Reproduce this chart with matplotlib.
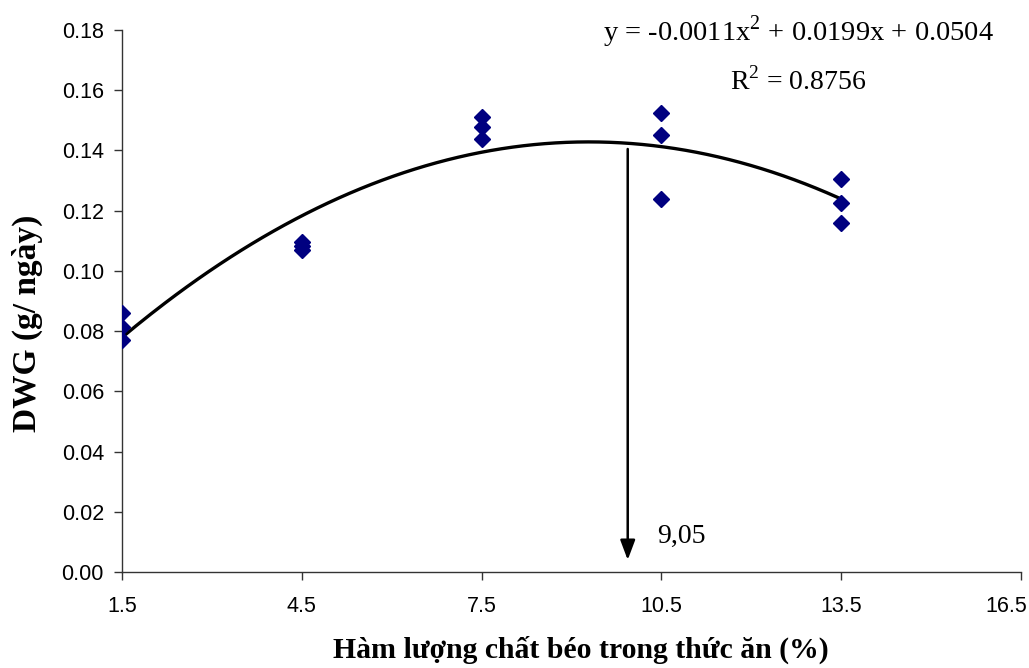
import numpy as np
import matplotlib
matplotlib.use("Agg")
import matplotlib.pyplot as plt
import matplotlib.transforms as mtransforms

# Data
x_levels = [1.5, 1.5, 1.5, 4.5, 4.5, 4.5, 7.5, 7.5, 7.5, 10.5, 10.5, 10.5, 13.5, 13.5, 13.5]
dwg = [0.0860, 0.0815, 0.0772, 0.1096, 0.1083, 0.1070, 0.1510, 0.1478, 0.1438,
       0.1524, 0.1451, 0.1239, 0.1305, 0.1225, 0.1159]
x_ticks = [1.5, 4.5, 7.5, 10.5, 13.5, 16.5]
y_ticks = [0.00, 0.02, 0.04, 0.06, 0.08, 0.10, 0.12, 0.14, 0.16, 0.18]
eq_text = "y = -0.0011x$^2$ + 0.0199x + 0.0504"
r2_text = "R$^2$ = 0.8756"
opt_label = "9,05"
arrow_x = 9.94
arrow_top = 0.1405

plt.rcParams["mathtext.fontset"] = "custom"
plt.rcParams["mathtext.rm"] = "Liberation Serif"

fig = plt.figure(figsize=(10.29, 6.68), dpi=100)
ax = fig.add_axes([0.1186, 0.1437, 0.992 - 0.1186, 0.955 - 0.1437])

# quadratic trendline fitted to the points
coef = np.polyfit(x_levels, dwg, 2)
xs = np.linspace(1.5, 13.5, 200)
ax.plot(xs, np.polyval(coef, xs), color="black", lw=2.4, zorder=2)

ax.plot(x_levels, dwg, linestyle="none", marker="D", markersize=8,
        color="#000080", zorder=3)

ax.annotate("", xy=(arrow_x, 0.004), xytext=(arrow_x, arrow_top),
            arrowprops=dict(arrowstyle="-|>,head_width=0.45,head_length=1.2",
                            color="black", lw=1.8, shrinkA=0, shrinkB=0))
ax.text(10.43, 0.0118, opt_label, fontfamily="Liberation Serif", fontsize=20,
        ha="left", va="center")

ax.text(12.79, 0.1795, eq_text, fontfamily="Liberation Serif", fontsize=20.5,
        ha="center", va="center")
ax.text(12.79, 0.163, r2_text, fontfamily="Liberation Serif", fontsize=20,
        ha="center", va="center")

ax.set_xlim(1.5, 16.5)
ax.set_ylim(0, 0.18)
ax.set_xticks(x_ticks)
ax.set_xticklabels([f"{v:.1f}" for v in x_ticks])
ax.set_yticks(y_ticks)
ax.set_yticklabels([f"{v:.2f}" for v in y_ticks])
for lab in ax.get_xticklabels() + ax.get_yticklabels():
    lab.set_fontfamily("Liberation Sans")
    lab.set_fontsize(15.5)
ax.tick_params(axis="both", direction="out", length=6, width=1, color="#333333")
ax.tick_params(axis="x", pad=11)
ax.tick_params(axis="y", pad=7)
last = ax.get_xticklabels()[-1]
last.set_transform(last.get_transform() + mtransforms.ScaledTranslation(-15 / 100, 0, fig.dpi_scale_trans))
for s in ["top", "right"]:
    ax.spines[s].set_visible(False)
for s in ["left", "bottom"]:
    ax.spines[s].set_color("#333333")
    ax.spines[s].set_linewidth(1)

ax.set_xlabel("Hàm lượng chất béo trong thức ăn (%)", fontfamily="Liberation Serif",
              fontweight="bold", fontsize=21.4)
ax.xaxis.set_label_coords((581 - 122) / 899, (572 - 636) / 542)
ax.set_ylabel("DWG (g/ ngày)", fontfamily="Liberation Serif",
              fontweight="bold", fontsize=24)
ax.yaxis.set_label_coords((43 - 122) / 899, (572 - 323) / 542)

fig.savefig("out.png", dpi=100)
